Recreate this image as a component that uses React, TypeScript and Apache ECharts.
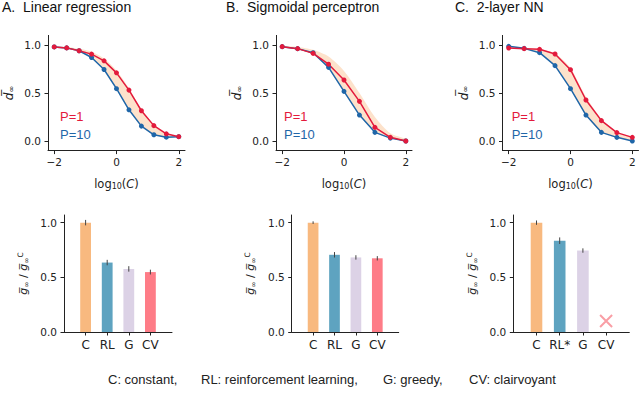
import { useEffect, useRef } from "react";
import * as echarts from "echarts";

// ---------- data ----------
const panelTitles = ["A.  Linear regression", "B.  Sigmoidal perceptron", "C.  2-layer NN"];
const legendLabels = ["P=1", "P=10"];

const xA = [-2, -1.6, -1.2, -0.8, -0.4, 0, 0.4, 0.8, 1.2, 1.6, 2];
const p1A = [0.98, 0.97, 0.94, 0.905, 0.835, 0.71, 0.53, 0.315, 0.16, 0.075, 0.045];
const p10A = [0.98, 0.97, 0.94, 0.87, 0.745, 0.545, 0.325, 0.155, 0.065, 0.04, 0.045];
const bandHiA = [0.985, 0.98, 0.96, 0.93, 0.86, 0.735, 0.55, 0.33, 0.17, 0.08, 0.05];
const bandLoA = [0.98, 0.97, 0.94, 0.87, 0.745, 0.545, 0.325, 0.155, 0.065, 0.04, 0.045];

const xB = [-2, -1.5, -1, -0.5, 0, 0.5, 1, 1.5, 2];
const p1B = [0.983, 0.962, 0.913, 0.8, 0.635, 0.413, 0.142, 0.038, 0.0];
const p10B = [0.983, 0.962, 0.92, 0.767, 0.517, 0.27, 0.09, 0.03, 0.0];
const bandHiB = [0.99, 0.98, 0.95, 0.88, 0.73, 0.5, 0.25, 0.08, 0.02];
const bandLoB = [0.98, 0.955, 0.9, 0.76, 0.52, 0.27, 0.1, 0.03, 0.0];

const xC = [-2, -1.5, -1, -0.5, 0, 0.5, 1, 1.5, 2];
const p1C = [0.969, 0.962, 0.955, 0.906, 0.743, 0.427, 0.212, 0.087, 0.038];
const p10C = [0.986, 0.965, 0.92, 0.785, 0.545, 0.27, 0.09, 0.038, 0.0];
const bandHiC = [0.975, 0.968, 0.958, 0.912, 0.76, 0.46, 0.23, 0.092, 0.04];
const bandLoC = [0.969, 0.962, 0.92, 0.785, 0.545, 0.27, 0.09, 0.038, 0.0];

const xTicksTop = [-2, 0, 2];
const yTicksTop = [0, 0.5, 1];
const yTicksBottom = [0, 0.5, 1];

const barPositions = [0, 1, 2, 3];
const barLabelsAB = ["C", "RL", "G", "CV"];
const barLabelsC = ["C", "RL*", "G", "CV"];
const barA = [1.0, 0.635, 0.577, 0.548];
const errA = [0.025, 0.025, 0.025, 0.022];
const barB = [1.0, 0.706, 0.682, 0.674];
const errB = [0.012, 0.025, 0.02, 0.02];
const barC = [1.0, 0.835, 0.745];
const errC = [0.02, 0.03, 0.02];
const crossC = [3, 0.1];

const captionParts = ["C: constant,", "RL: reinforcement learning,", "G: greedy,", "CV: clairvoyant"];

// ---------- styles / layout ----------
const RED = "#e31a3c";
const BLUE = "#1f66a8";
const BAND = "#fde2cb";
const BAR_COLORS = ["#f8b97f", "#5ea3c0", "#dcd2e6", "#fe7c87"];
const CROSS = "#f7868f";
const INK = "#222";
const TICK_FONT = "DejaVu Sans";
const TEXT_FONT = "Liberation Sans";

const topGrids = [
  { left: 48, width: 137 },
  { left: 276, width: 136 },
  { left: 502.5, width: 136 },
];
const TOP_Y = 35.4;
const TOP_H = 115.2;
const bottomGrids = [
  { left: 64, width: 108 },
  { left: 291.7, width: 107 },
  { left: 513.3, width: 116 },
];
const BOT_Y = 215;
const BOT_H = 117;
const titleLeft = [2, 226, 455];
const legendLeft = [60, 284, 511.7];
const captionLeft = [108, 201, 383, 469];

const fmtNum = (v: number) => (v < 0 ? "\u2212" + Math.abs(v) : String(v));

export default function App() {
  const ref = useRef<HTMLDivElement>(null);

  useEffect(() => {
    if (!ref.current) return;
    const chart = echarts.init(ref.current, undefined, { renderer: "svg" });

    const topData = [
      { x: xA, p1: p1A, p10: p10A, hi: bandHiA, lo: bandLoA },
      { x: xB, p1: p1B, p10: p10B, hi: bandHiB, lo: bandLoB },
      { x: xC, p1: p1C, p10: p10C, hi: bandHiC, lo: bandLoC },
    ];
    const botData = [
      { v: barA, e: errA, labels: barLabelsAB },
      { v: barB, e: errB, labels: barLabelsAB },
      { v: barC, e: errC, labels: barLabelsC },
    ];

    const grid: any[] = [];
    const xAxis: any[] = [];
    const yAxis: any[] = [];
    const series: any[] = [];

    const axisLine = { show: true, onZero: false, lineStyle: { color: INK, width: 1 } };

    topGrids.forEach((g, i) => {
      grid.push({ left: g.left, width: g.width, top: TOP_Y, height: TOP_H });
      xAxis.push({
        type: "value",
        gridIndex: i,
        min: -2.2,
        max: 2.2,
        splitLine: { show: false },
        axisLine,
        axisTick: { show: true, customValues: xTicksTop, length: 3.5, lineStyle: { color: INK } },
        axisLabel: {
          customValues: xTicksTop,
          formatter: fmtNum,
          fontFamily: TICK_FONT,
          fontSize: 10.5,
          color: INK,
          margin: 6,
        },
        name: "{a|log}{s|10}{a|(}{i|C}{a|)}",
        nameLocation: "middle",
        nameGap: 27,
        nameTextStyle: {
          rich: {
            a: { fontFamily: TICK_FONT, fontSize: 11.5, color: INK },
            s: { fontFamily: TICK_FONT, fontSize: 8, color: INK, verticalAlign: "bottom", padding: [5, 0, 0, 0] },
            i: { fontFamily: TICK_FONT, fontSize: 11.5, fontStyle: "italic", color: INK },
          },
        },
      });
      yAxis.push({
        type: "value",
        gridIndex: i,
        min: -0.1,
        max: 1.1,
        splitLine: { show: false },
        axisLine,
        axisTick: { show: true, customValues: yTicksTop, length: 3.5, lineStyle: { color: INK } },
        axisLabel: {
          customValues: yTicksTop,
          formatter: (v: number) => v.toFixed(1),
          fontFamily: TICK_FONT,
          fontSize: 10.5,
          color: INK,
          margin: 7,
        },
        name: "{d|d\u0305}{s|\u221e}",
        nameLocation: "middle",
        nameRotate: 90,
        nameGap: 33,
        nameTextStyle: {
          rich: {
            d: { fontFamily: TICK_FONT, fontSize: 12, fontStyle: "italic", color: INK },
            s: { fontFamily: TICK_FONT, fontSize: 8, color: INK, verticalAlign: "bottom", padding: [4, 0, 0, 0] },
          },
        },
      });
      const d = topData[i];
      const xs = d.x;
      const hi = d.hi;
      const lo = d.lo;
      series.push({
        type: "custom",
        xAxisIndex: i,
        yAxisIndex: i,
        silent: true,
        z: 1,
        data: [[xs[0], hi[0]]],
        encode: { x: 0, y: 1 },
        renderItem: (_p: any, api: any) => {
          const pts: number[][] = [];
          for (let k = 0; k < xs.length; k++) pts.push(api.coord([xs[k], hi[k]]));
          for (let k = xs.length - 1; k >= 0; k--) pts.push(api.coord([xs[k], lo[k]]));
          return { type: "polygon", shape: { points: pts, smooth: 0.25 }, style: { fill: BAND } };
        },
      });
      [
        { vals: d.p10, color: BLUE },
        { vals: d.p1, color: RED },
      ].forEach((s) => {
        series.push({
          type: "line",
          xAxisIndex: i,
          yAxisIndex: i,
          z: 3,
          data: xs.map((x, k) => [x, s.vals[k]]),
          symbol: "circle",
          symbolSize: 5,
          showSymbol: true,
          lineStyle: { color: s.color, width: 1.5 },
          itemStyle: { color: s.color },
        });
      });
    });

    bottomGrids.forEach((g, j) => {
      const idx = 3 + j;
      const d = botData[j];
      grid.push({ left: g.left, width: g.width, top: BOT_Y, height: BOT_H });
      xAxis.push({
        type: "value",
        gridIndex: idx,
        min: -1,
        max: 4,
        splitLine: { show: false },
        axisLine,
        axisTick: { show: true, customValues: barPositions, length: 3.5, lineStyle: { color: INK } },
        axisLabel: {
          customValues: barPositions,
          formatter: (v: number) => d.labels[Math.round(v)] ?? "",
          fontFamily: TICK_FONT,
          fontSize: 12,
          color: INK,
          margin: 7,
        },
      });
      yAxis.push({
        type: "value",
        gridIndex: idx,
        min: 0,
        max: 1.07,
        splitLine: { show: false },
        axisLine,
        axisTick: { show: true, customValues: yTicksBottom, length: 3.5, lineStyle: { color: INK } },
        axisLabel: {
          customValues: yTicksBottom,
          formatter: (v: number) => v.toFixed(1),
          fontFamily: TICK_FONT,
          fontSize: 10.5,
          color: INK,
          margin: 7,
        },
        name: "{g|g\u0305}{s|\u221e}{n| / }{g|g\u0305}{s|\u221e}{p|C}",
        nameLocation: "middle",
        nameRotate: 90,
        nameGap: 34,
        nameTextStyle: {
          rich: {
            g: { fontFamily: TICK_FONT, fontSize: 11, fontStyle: "italic", color: INK },
            n: { fontFamily: TICK_FONT, fontSize: 11, color: INK },
            s: { fontFamily: TICK_FONT, fontSize: 7.5, color: INK, verticalAlign: "bottom", padding: [4, 0, 0, 0] },
            p: { fontFamily: TICK_FONT, fontSize: 7.5, color: INK, verticalAlign: "top", padding: [0, 0, 6, 0] },
          },
        },
      });
      const barW = (g.width * 0.5) / 5;
      series.push({
        type: "bar",
        xAxisIndex: idx,
        yAxisIndex: idx,
        barWidth: barW,
        z: 2,
        data: d.v.map((v, k) => ({ value: [barPositions[k], v], itemStyle: { color: BAR_COLORS[k] } })),
      });
      series.push({
        type: "custom",
        xAxisIndex: idx,
        yAxisIndex: idx,
        z: 4,
        silent: true,
        data: d.v.map((v, k) => [barPositions[k], v, d.e[k]]),
        encode: { x: 0, y: 1 },
        renderItem: (_p: any, api: any) => {
          const x = api.value(0);
          const v = api.value(1);
          const e = api.value(2);
          const a = api.coord([x, v - e]);
          const b = api.coord([x, v + e]);
          return {
            type: "line",
            shape: { x1: a[0], y1: a[1], x2: b[0], y2: b[1] },
            style: { stroke: "#444", lineWidth: 1 },
          };
        },
      });
      if (j === 2) {
        series.push({
          type: "scatter",
          xAxisIndex: idx,
          yAxisIndex: idx,
          z: 4,
          data: [crossC],
          symbol: "path://M0,0L10,10M10,0L0,10",
          symbolSize: 12,
          itemStyle: { color: "none", borderColor: CROSS, borderWidth: 2 },
        });
      }
    });

    const graphic: any[] = [];
    legendLeft.forEach((lx) => {
      graphic.push({
        type: "text",
        left: lx,
        top: 110,
        style: { text: legendLabels[0], fill: RED, font: `13px "${TEXT_FONT}"` },
      });
      graphic.push({
        type: "text",
        left: lx,
        top: 128,
        style: { text: legendLabels[1], fill: BLUE, font: `13px "${TEXT_FONT}"` },
      });
    });
    captionParts.forEach((t, k) => {
      graphic.push({
        type: "text",
        left: captionLeft[k],
        top: 373,
        style: { text: t, fill: INK, font: `13px "${TEXT_FONT}"` },
      });
    });

    chart.setOption({
      animation: false,
      backgroundColor: "#fff",
      title: panelTitles.map((t, i) => ({
        text: t,
        left: titleLeft[i],
        top: 0,
        padding: 0,
        textStyle: { fontFamily: TEXT_FONT, fontSize: 14, fontWeight: "normal", color: "#111" },
      })),
      grid,
      xAxis,
      yAxis,
      series,
      graphic,
    });

    return () => chart.dispose();
  }, []);

  return (
    <div
      ref={ref}
      style={{ position: "fixed", left: 0, top: 0, width: 640, height: 397, background: "#fff" }}
    />
  );
}
